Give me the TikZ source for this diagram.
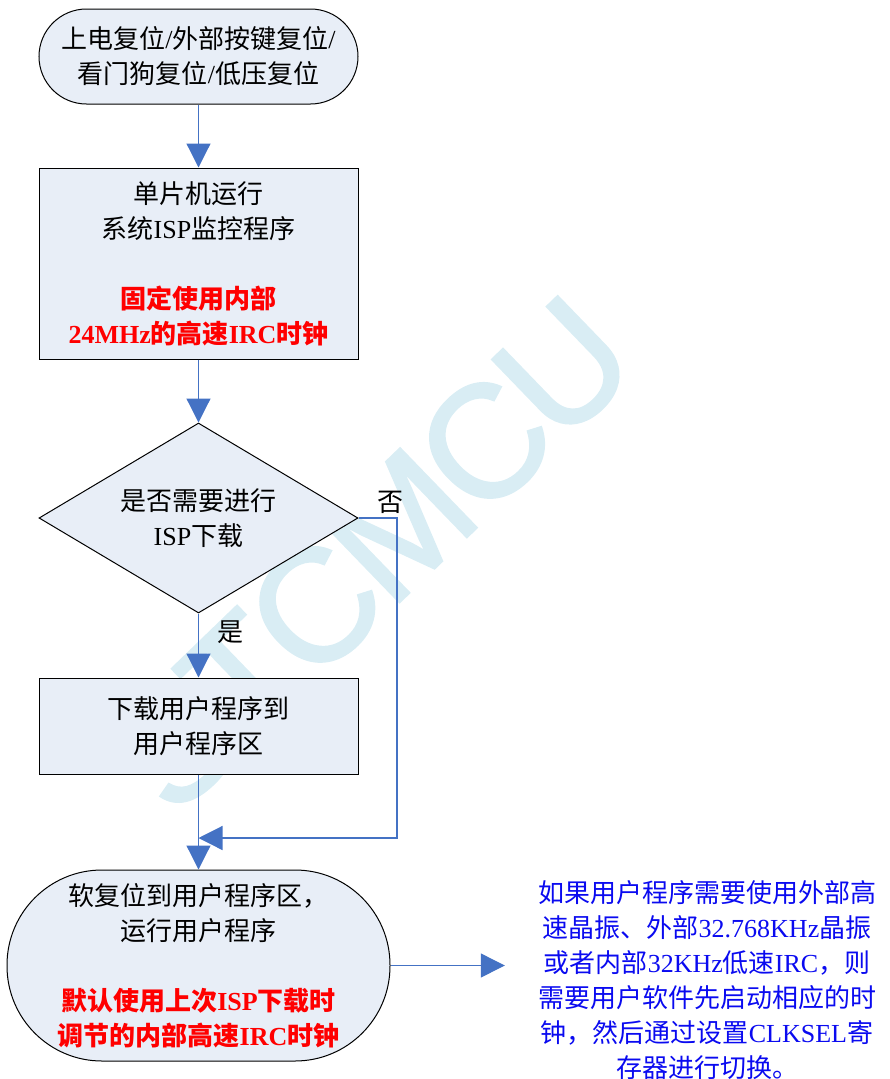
\documentclass[tikz,border=0pt]{standalone}
\usepackage{fontspec}
\setmainfont{Liberation Serif}
\setsansfont{Liberation Sans}
\newfontfamily\cjk{Noto Sans CJK SC}
\newfontfamily\wmfont{Liberation Sans}[FakeBold=1.5]
\usepackage{xcolor}
\usetikzlibrary{arrows.meta, positioning, shapes.geometric}

% Chinese runs in Noto Sans CJK, everything else in Liberation Serif
\XeTeXinterchartokenstate=1
\newXeTeXintercharclass\cjkcls
\count255="3000
\loop
  \XeTeXcharclass\count255=\cjkcls
\ifnum\count255<"9FFF \advance\count255 by 1 \repeat
\count255="FF00
\loop
  \XeTeXcharclass\count255=\cjkcls
\ifnum\count255<"FFEF \advance\count255 by 1 \repeat
\XeTeXinterchartoks 0 \cjkcls = {\cjk}
\XeTeXinterchartoks 4095 \cjkcls = {\cjk}
\XeTeXinterchartoks \cjkcls 0 = {\rmfamily}
\XeTeXinterchartoks \cjkcls 4095 = {\rmfamily}

\definecolor{boxfill}{RGB}{232,238,247}
\definecolor{flowblue}{RGB}{68,114,196}
\definecolor{wmark}{RGB}{217,237,244}
\definecolor{noteblue}{RGB}{10,10,240}

\newcommand\redb[1]{{\color{red}\bfseries #1}}

\tikzset{
  box/.style={draw, line width=1pt, fill=boxfill, align=center, inner sep=0pt, minimum width=319pt, font=\fontsize{26}{35}\selectfont},
  term/.style={box, rounded corners=#1},
  dec/.style={box, diamond, aspect=1.68, minimum height=190pt},
  arr/.style={-{Triangle[length=24pt, width=24pt]}, draw=flowblue, line width=1.2pt},
  lbl/.style={font=\fontsize{26}{35}\selectfont, inner sep=0pt},
  note/.style={text=noteblue, text width=360pt, align=center, inner sep=0pt, font=\fontsize{26}{35}\selectfont},
  wm/.style={text=wmark, font=\wmfont\fontsize{160}{160}\selectfont, rotate=44, inner sep=0pt}
}

\begin{document}
\begin{tikzpicture}[x=1pt, y=-1pt]
    \useasboundingbox (0,0) rectangle (890,1079);
    \node[wm] (stamp) at (370,554) {S\kern-.04em T\kern-.04em C\kern-.04em M\kern-.04em C\kern-.04em U};

    \node[term=47.5pt, minimum height=95pt] (reset) at (198.5,56.5) {上电复位/外部按键复位/\\看门狗复位/低压复位};
    \node[box, minimum height=191pt] (isp) at (198.5,263.5) {单片机运行\\系统ISP监控程序\\[35pt]\redb{固定使用内部}\\\redb{24MHz的高速IRC时钟}};
    \node[dec] (ask) at (198.5,518) {是否需要进行\\ISP下载};
    \node[box, minimum height=96pt] (load) at (198.5,726) {下载用户程序到\\用户程序区};
    \node[term=95pt, minimum width=383pt, minimum height=191pt] (run) at (198.5,965.5) {软复位到用户程序区，\\运行用户程序\\[35pt]\redb{默认使用上次ISP下载时}\\\redb{调节的内部高速IRC时钟}};
    \node[note] (hint) at (707,980) {如果用户程序需要使用外部高\\速晶振、外部32.768KHz晶振\\或者内部32KHz低速IRC，则\\需要用户软件先启动相应的时\\钟，然后通过设置CLKSEL寄\\存器进行切换。};

    \node[lbl] (nolbl) at (390,502) {否};
    \node[lbl] (yeslbl) at (230,632) {是};
    \coordinate (nobend) at (397,838);
    \coordinate (join) at (198.5,838);

    \draw[arr] (reset) -- (isp);
    \draw[arr] (isp) -- (ask);
    \draw[arr] (ask) -- (load);
    \draw[arr] (load) -- (run);
    \draw[arr] (ask.east) -| (nobend) -- (join);
    \draw[arr, shorten >=22pt] (run.east) -- (run.east -| hint.west);
  \end{tikzpicture}
\end{document}
